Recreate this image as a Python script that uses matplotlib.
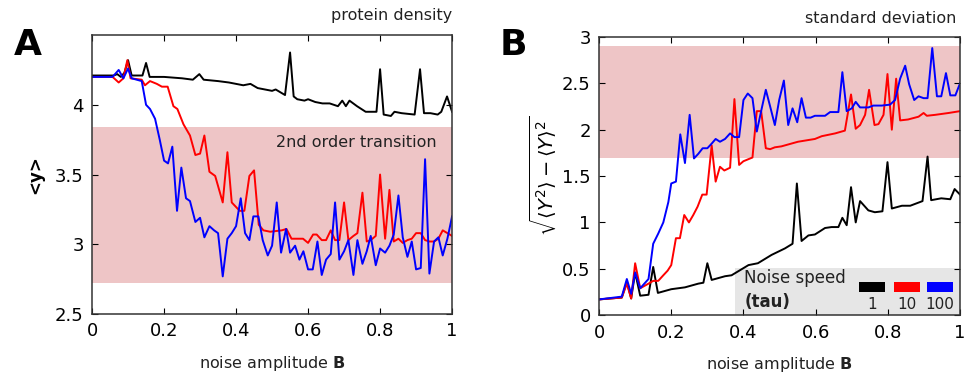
import numpy as np
import matplotlib; matplotlib.use("Agg")
import matplotlib.pyplot as plt
from matplotlib.patches import Rectangle

# ── panel A: <y> vs noise amplitude B ──
a_k_x = [0, 0.06, 0.07, 0.08, 0.09, 0.1, 0.11, 0.13, 0.14, 0.15, 0.16, 0.2, 0.25, 0.28, 0.298, 0.31,
         0.35, 0.38, 0.4, 0.42, 0.44, 0.46, 0.48, 0.5, 0.51, 0.536, 0.55, 0.56, 0.57, 0.59, 0.6, 0.62,
         0.64, 0.66, 0.683, 0.695, 0.705, 0.715, 0.736, 0.76, 0.79, 0.8, 0.81, 0.83, 0.84, 0.86, 0.896,
         0.911, 0.922, 0.94, 0.96, 0.97, 0.986, 1.0]
a_k_y = [4.21, 4.21, 4.22, 4.2, 4.23, 4.32, 4.21, 4.21, 4.21, 4.30, 4.2, 4.2, 4.19, 4.18, 4.22, 4.18,
         4.17, 4.16, 4.15, 4.14, 4.15, 4.12, 4.11, 4.1, 4.11, 4.07, 4.375, 4.06, 4.04, 4.03, 4.04, 4.02,
         4.01, 4.01, 3.99, 4.03, 3.99, 4.03, 3.99, 3.95, 3.95, 4.255, 3.93, 3.92, 3.95, 3.94, 3.93,
         4.255, 3.94, 3.94, 3.93, 3.95, 4.06, 3.95]

a_r_x = [0, 0.057, 0.074, 0.087, 0.098, 0.107, 0.138, 0.147, 0.161, 0.18, 0.194, 0.21, 0.226, 0.237,
         0.254, 0.272, 0.287, 0.3, 0.312, 0.326, 0.342, 0.363, 0.376, 0.388, 0.41, 0.423, 0.437, 0.45,
         0.463, 0.476, 0.495, 0.527, 0.54, 0.554, 0.586, 0.6, 0.614, 0.624, 0.638, 0.65, 0.663, 0.675,
         0.687, 0.7, 0.712, 0.726, 0.737, 0.751, 0.763, 0.774, 0.788, 0.8, 0.814, 0.826, 0.838, 0.851,
         0.863, 0.876, 0.888, 0.9, 0.913, 0.925, 0.937, 0.95, 0.962, 0.974, 0.987, 1.0]
a_r_y = [4.2, 4.2, 4.16, 4.19, 4.32, 4.19, 4.18, 4.14, 4.17, 4.15, 4.13, 4.13, 3.99, 3.97,
         3.86, 3.78, 3.64, 3.65, 3.78, 3.52, 3.49, 3.30, 3.66, 3.30, 3.24, 3.24, 3.49, 3.53,
         3.14, 3.10, 3.09, 3.10, 3.11, 3.04, 3.04, 3.01, 3.07, 3.07, 3.03, 3.03, 3.1, 3.03,
         3.03, 3.30, 3.03, 3.06, 3.08, 3.37, 3.02, 3.03, 3.06, 3.50, 3.04, 3.39, 3.02, 3.04,
         3.01, 3.03, 3.04, 3.08, 3.08, 3.03, 3.02, 3.02, 3.04, 3.1, 3.08, 3.06]

a_b_x = [0, 0.057, 0.074, 0.087, 0.1, 0.11, 0.138, 0.15, 0.161, 0.175, 0.188, 0.2, 0.211, 0.223,
         0.236, 0.248, 0.261, 0.272, 0.287, 0.3, 0.312, 0.326, 0.339, 0.35, 0.363, 0.376, 0.388,
         0.4, 0.413, 0.425, 0.437, 0.448, 0.462, 0.474, 0.488, 0.5, 0.513, 0.525, 0.539, 0.55,
         0.564, 0.576, 0.587, 0.6, 0.613, 0.626, 0.638, 0.65, 0.663, 0.675, 0.687, 0.7, 0.712,
         0.726, 0.737, 0.751, 0.763, 0.774, 0.788, 0.8, 0.814, 0.826, 0.838, 0.851, 0.863, 0.876,
         0.888, 0.9, 0.913, 0.925, 0.937, 0.95, 0.962, 0.974, 0.987, 1.0]
a_b_y = [4.2, 4.2, 4.25, 4.19, 4.26, 4.19, 4.17, 4.0, 3.97, 3.9, 3.75, 3.6, 3.58, 3.70,
         3.24, 3.55, 3.33, 3.31, 3.16, 3.19, 3.05, 3.13, 3.10, 3.08, 2.77, 3.04, 3.08,
         3.13, 3.33, 3.08, 3.03, 3.2, 3.2, 3.03, 2.92, 2.99, 3.30, 2.94, 3.11, 2.94,
         2.99, 2.89, 2.95, 2.82, 2.82, 3.02, 2.78, 2.89, 2.93, 3.30, 2.89, 2.95, 3.03,
         2.78, 3.03, 2.86, 2.95, 3.06, 2.85, 2.97, 2.94, 2.99, 3.07, 3.35, 3.05, 2.91,
         3.02, 2.82, 2.83, 3.61, 2.79, 3.02, 3.05, 2.92, 3.04, 3.2]

# ── panel B: standard deviation vs noise amplitude B ──
b_k_x = [0, 0.063, 0.077, 0.089, 0.1, 0.114, 0.137, 0.15, 0.163, 0.2, 0.238, 0.275, 0.289, 0.3,
         0.312, 0.349, 0.367, 0.414, 0.44, 0.478, 0.515, 0.536, 0.548, 0.561, 0.58, 0.598, 0.626,
         0.644, 0.663, 0.674, 0.686, 0.698, 0.711, 0.723, 0.746, 0.764, 0.785, 0.799, 0.811, 0.839,
         0.862, 0.896, 0.91, 0.92, 0.948, 0.973, 0.985, 1.0]
b_k_y = [0.17, 0.19, 0.36, 0.18, 0.46, 0.21, 0.22, 0.52, 0.24, 0.28, 0.30, 0.34, 0.35, 0.56,
         0.38, 0.42, 0.43, 0.54, 0.56, 0.65, 0.72, 0.77, 1.42, 0.80, 0.86, 0.87, 0.94,
         0.95, 0.95, 1.05, 0.97, 1.38, 1.0, 1.23, 1.13, 1.11, 1.12, 1.65, 1.15, 1.18,
         1.18, 1.23, 1.71, 1.24, 1.26, 1.25, 1.36, 1.3]

b_r_x = [0, 0.063, 0.077, 0.089, 0.1, 0.114, 0.137, 0.15, 0.164, 0.178, 0.19, 0.2, 0.213, 0.224,
         0.236, 0.249, 0.261, 0.273, 0.286, 0.298, 0.312, 0.323, 0.335, 0.347, 0.363, 0.375, 0.388,
         0.4, 0.425, 0.437, 0.449, 0.462, 0.474, 0.487, 0.505, 0.551, 0.598, 0.617, 0.654, 0.681,
         0.698, 0.711, 0.723, 0.737, 0.748, 0.763, 0.774, 0.788, 0.799, 0.811, 0.823, 0.834, 0.856,
         0.885, 0.899, 0.908, 0.931, 0.968, 1.0]
b_r_y = [0.17, 0.19, 0.34, 0.18, 0.56, 0.29, 0.34, 0.37, 0.37, 0.43, 0.48, 0.54, 0.83, 0.83,
         1.08, 1.0, 1.08, 1.17, 1.3, 1.3, 1.83, 1.44, 1.6, 1.56, 1.59, 2.33, 1.62,
         1.66, 1.7, 2.2, 2.2, 1.8, 1.79, 1.81, 1.82, 1.87, 1.9, 1.93, 1.96, 1.99,
         2.38, 2.01, 2.05, 2.16, 2.43, 2.05, 2.06, 2.16, 2.6, 2.0, 2.55, 2.1, 2.11,
         2.14, 2.18, 2.15, 2.16, 2.18, 2.2]

b_b_x = [0, 0.063, 0.077, 0.089, 0.1, 0.114, 0.137, 0.15, 0.164, 0.178, 0.192, 0.2, 0.213, 0.225,
         0.238, 0.251, 0.263, 0.275, 0.287, 0.3, 0.312, 0.323, 0.335, 0.349, 0.363, 0.375, 0.388,
         0.4, 0.412, 0.425, 0.437, 0.449, 0.462, 0.474, 0.487, 0.499, 0.512, 0.524, 0.536, 0.549,
         0.561, 0.573, 0.586, 0.598, 0.626, 0.64, 0.663, 0.674, 0.686, 0.7, 0.711, 0.723, 0.746,
         0.76, 0.783, 0.806, 0.82, 0.834, 0.848, 0.859, 0.873, 0.885, 0.899, 0.91, 0.923, 0.936,
         0.948, 0.961, 0.973, 0.987, 1.0]
b_b_y = [0.17, 0.2, 0.39, 0.23, 0.46, 0.29, 0.39, 0.77, 0.88, 1.0, 1.22, 1.42, 1.44, 1.95,
         1.64, 2.16, 1.69, 1.74, 1.80, 1.80, 1.85, 1.9, 1.87, 1.9, 1.96, 1.92, 1.92,
         2.32, 2.39, 2.34, 1.98, 2.2, 2.43, 2.25, 2.05, 2.32, 2.53, 2.05, 2.23, 2.08,
         2.34, 2.13, 2.13, 2.15, 2.15, 2.19, 2.19, 2.62, 2.2, 2.23, 2.3, 2.24, 2.24,
         2.26, 2.26, 2.27, 2.32, 2.55, 2.69, 2.49, 2.32, 2.36, 2.34, 2.34, 2.88, 2.36,
         2.36, 2.61, 2.37, 2.37, 2.5]

tau_labels = ["1", "10", "100"]
band_a = (2.72, 3.84)
band_b = (1.7, 2.9)

BAND = "#eec5c6"
LINE_C = ["#000000", "#ff0000", "#0000ff"]

plt.rcParams["font.family"] = ["DejaVu Sans"]
fig = plt.figure(figsize=(9.72, 3.77), dpi=100)
axA = fig.add_axes([0.0947, 0.167, 0.3704, 0.740])
axB = fig.add_axes([0.6163, 0.164, 0.3714, 0.738])

for ax in (axA, axB):
    ax.tick_params(direction="in", top=True, right=True, labelsize=13, length=4, pad=6)
    for s in ax.spines.values():
        s.set_color("#333333"); s.set_linewidth(1.1)
    ax.set_xlim(0, 1)
    ax.set_xticks([0, 0.2, 0.4, 0.6, 0.8, 1.0])
    ax.set_xticklabels(["0", "0.2", "0.4", "0.6", "0.8", "1"])
    ax.set_xlabel(r"noise amplitude $\mathbf{B}$", fontsize=11.5, color="#222222", labelpad=10)

# A
axA.axhspan(*band_a, color=BAND, lw=0, zorder=0)
axA.plot(a_k_x, a_k_y, color=LINE_C[0], lw=1.4)
axA.plot(a_r_x, a_r_y, color=LINE_C[1], lw=1.4)
axA.plot(a_b_x, a_b_y, color=LINE_C[2], lw=1.4)
axA.set_ylim(2.5, 4.5)
axA.set_yticks([2.5, 3, 3.5, 4])
axA.set_yticklabels(["2.5", "3", "3.5", "4"])
axA.set_ylabel("<y>", fontsize=12, fontweight="bold", labelpad=8)
axA.text(0.958, 0.615, "2nd order transition", transform=axA.transAxes, ha="right", va="center",
         fontsize=11.5, color="#222222")
axA.text(1.0, 1.07, "protein density", transform=axA.transAxes, ha="right", va="center",
         fontsize=11.5, color="#222222")
fig.text(0.029, 0.88, "A", fontsize=26, fontweight="bold", ha="center", va="center")

# B
axB.axhspan(*band_b, color=BAND, lw=0, zorder=0)
axB.add_patch(Rectangle((0.377, 0), 0.623, 0.51, color="#e6e6e6", lw=0, zorder=0.5))
axB.plot(b_k_x, b_k_y, color=LINE_C[0], lw=1.4)
axB.plot(b_r_x, b_r_y, color=LINE_C[1], lw=1.4)
axB.plot(b_b_x, b_b_y, color=LINE_C[2], lw=1.4)
axB.set_ylim(0, 3)
axB.set_yticks([0, 0.5, 1, 1.5, 2, 2.5, 3])
axB.set_yticklabels(["0", "0.5", "1", "1.5", "2", "2.5", "3"])
axB.set_ylabel(r"$\sqrt{\langle Y^2\rangle - \langle Y\rangle^2}$", fontsize=14, labelpad=2)
axB.text(0.99, 1.065, "standard deviation", transform=axB.transAxes, ha="right", va="center",
         fontsize=11.5, color="#222222")
fig.text(0.528, 0.88, "B", fontsize=26, fontweight="bold", ha="center", va="center")

# legend box (noise speed)
axB.text(0.402, 0.135, "Noise speed", transform=axB.transAxes, ha="left", va="center",
         fontsize=12, color="#222222", zorder=3)
axB.text(0.402, 0.047, "(tau)", transform=axB.transAxes, ha="left", va="center",
         fontsize=12, fontweight="bold", color="#222222", zorder=3)
px0 = [0.72, 0.817, 0.909]
for i, lab in enumerate(tau_labels):
    axB.add_patch(Rectangle((px0[i], 0.083), 0.072, 0.038, transform=axB.transAxes,
                            color=LINE_C[i], lw=0, zorder=3))
    axB.text(px0[i] + 0.036, 0.04, lab, transform=axB.transAxes, ha="center", va="center",
             fontsize=11, color="#222222", zorder=3)

fig.savefig("out.png", dpi=100)
